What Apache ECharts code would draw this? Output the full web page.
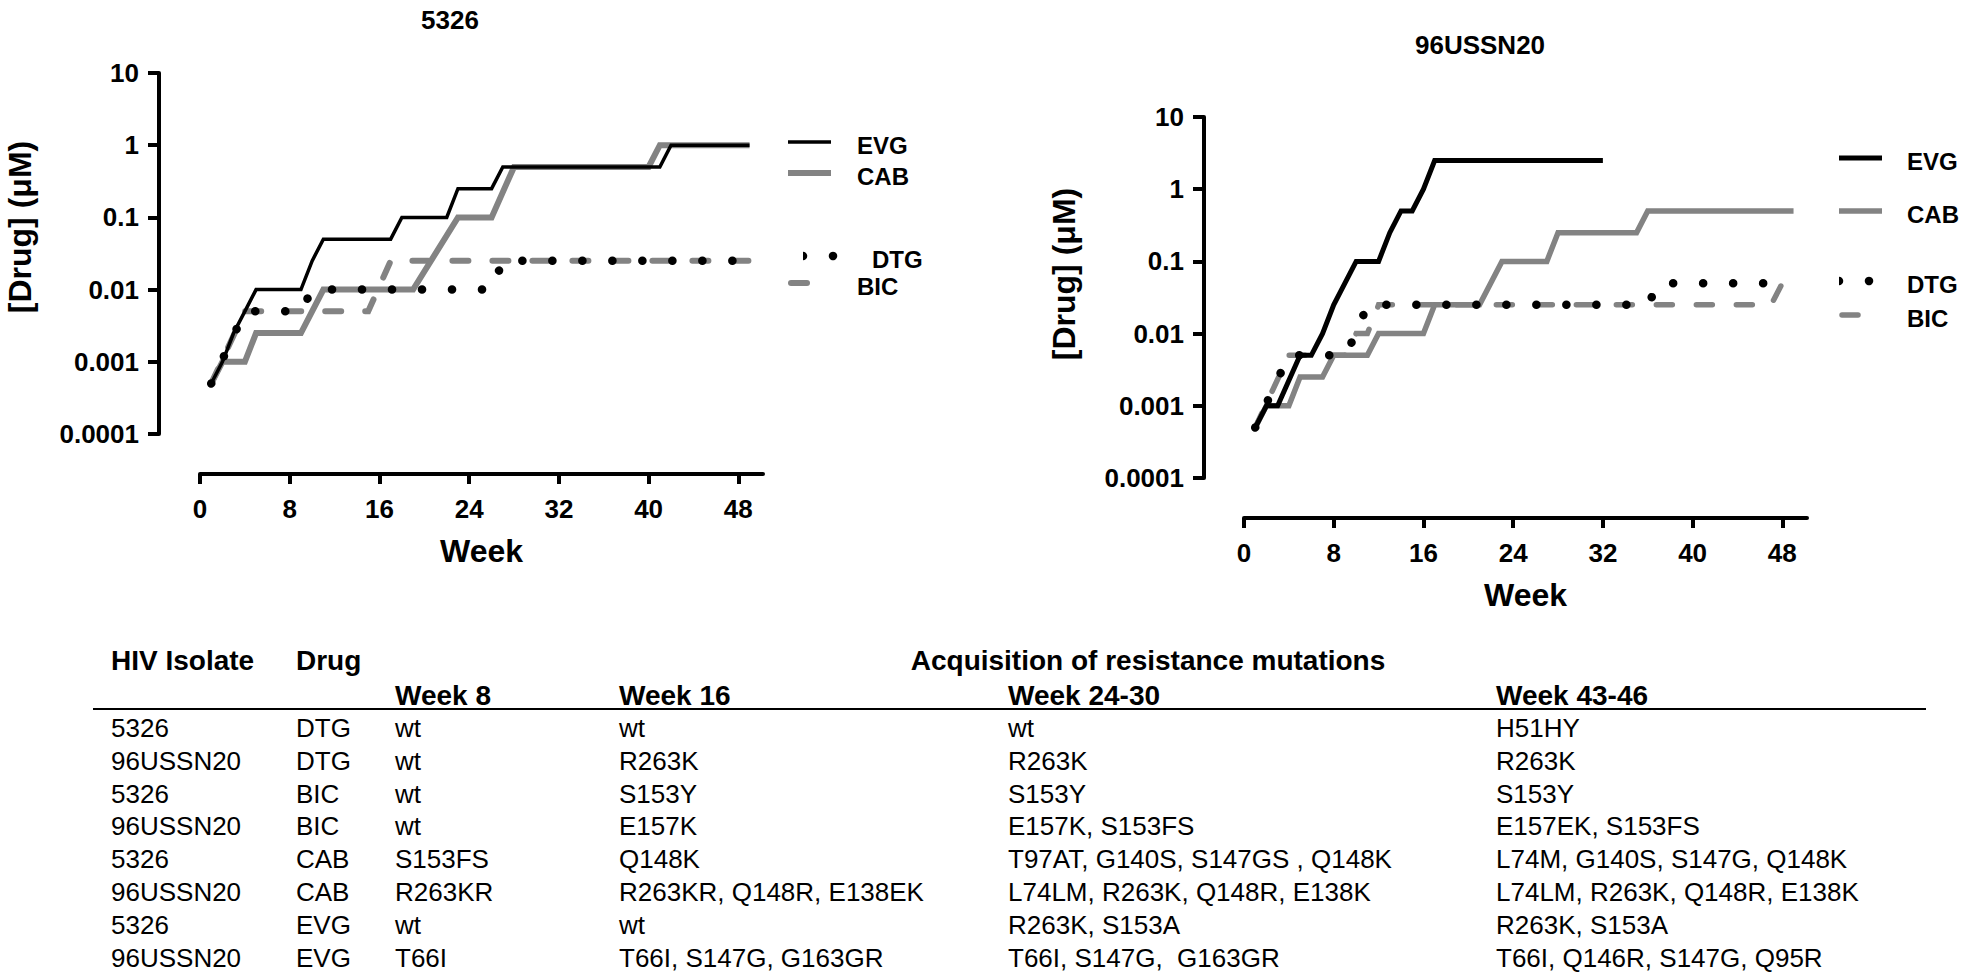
<!DOCTYPE html>
<html><head><meta charset="utf-8">
<script src="https://cdn.jsdelivr.net/npm/echarts@6/dist/echarts.min.js"></script>
<style>html,body{margin:0;padding:0;background:#fff;}#c{width:1961px;height:974px;}</style>
</head><body><div id="c"></div>
<script>
// ---------------- DATA ----------------
const panelTitles = ['5326', '96USSN20'];
const drugNames = ['EVG', 'CAB', 'DTG', 'BIC'];
const xTickValues = [0, 8, 16, 24, 32, 40, 48];
const yTickLabels = ['0.0001', '0.001', '0.01', '0.1', '1', '10'];
const xAxisTitle = 'Week';
const yAxisTitle = '[Drug] (\u03bcM)';

// isolate 5326
const evg5326Weeks  = [1, 2, 3, 4, 5, 9, 10, 11, 17, 18, 22, 23, 26, 27, 41, 42, 49];
const evg5326Values = [0.0005, 0.001, 0.0025, 0.005, 0.01, 0.01, 0.025, 0.05, 0.05, 0.1, 0.1, 0.25, 0.25, 0.5, 0.5, 1, 1];
const cab5326Weeks  = [1, 2, 4, 5, 9, 11, 19, 23, 26, 28, 40, 41, 49];
const cab5326Values = [0.0005, 0.001, 0.001, 0.0025, 0.0025, 0.01, 0.01, 0.1, 0.1, 0.5, 0.5, 1, 1];
const dtg5326Weeks  = [1, 4, 9, 10, 26, 27, 49];
const dtg5326Values = [0.0005, 0.005, 0.005, 0.01, 0.01, 0.025, 0.025];
const bic5326Weeks  = [1, 4, 15, 17, 49];
const bic5326Values = [0.0005, 0.005, 0.005, 0.025, 0.025];

// isolate 96USSN20
const evgUSWeeks  = [1, 2, 3, 5, 6, 7, 8, 9, 10, 12, 13, 14, 15, 16, 17, 32];
const evgUSValues = [0.0005, 0.001, 0.001, 0.005, 0.005, 0.01, 0.025, 0.05, 0.1, 0.1, 0.25, 0.5, 0.5, 1, 2.5, 2.5];
const cabUSWeeks  = [1, 2, 4, 5, 7, 8, 11, 12, 16, 17, 21, 23, 27, 28, 35, 36, 49];
const cabUSValues = [0.0005, 0.001, 0.001, 0.0025, 0.0025, 0.005, 0.005, 0.01, 0.01, 0.025, 0.025, 0.1, 0.1, 0.25, 0.25, 0.5, 0.5];
const dtgUSWeeks  = [1, 4, 9, 10, 11, 36, 37, 48];
const dtgUSValues = [0.0005, 0.005, 0.005, 0.01, 0.025, 0.025, 0.05, 0.05];
const bicUSWeeks  = [1, 4, 9, 10, 11, 12, 47, 48];
const bicUSValues = [0.0005, 0.005, 0.005, 0.01, 0.01, 0.025, 0.025, 0.05];

// table
const tableHeaderIsolate = 'HIV Isolate';
const tableHeaderDrug = 'Drug';
const tableHeaderGroup = 'Acquisition of resistance mutations';
const tableWeekHeaders = ['Week 8', 'Week 16', 'Week 24-30', 'Week 43-46'];
const tableIsolates = ['5326', '96USSN20', '5326', '96USSN20', '5326', '96USSN20', '5326', '96USSN20'];
const tableDrugs = ['DTG', 'DTG', 'BIC', 'BIC', 'CAB', 'CAB', 'EVG', 'EVG'];
const mutWeek8  = ['wt', 'wt', 'wt', 'wt', 'S153FS', 'R263KR', 'wt', 'T66I'];
const mutWeek16 = ['wt', 'R263K', 'S153Y', 'E157K', 'Q148K', 'R263KR, Q148R, E138EK', 'wt', 'T66I, S147G, G163GR'];
const mutWeek24 = ['wt', 'R263K', 'S153Y', 'E157K, S153FS', 'T97AT, G140S, S147GS , Q148K', 'L74LM, R263K, Q148R, E138K', 'R263K, S153A', 'T66I, S147G,  G163GR'];
const mutWeek43 = ['H51HY', 'R263K', 'S153Y', 'E157EK, S153FS', 'L74M, G140S, S147G, Q148K', 'L74LM, R263K, Q148R, E138K', 'R263K, S153A', 'T66I, Q146R, S147G, Q95R'];

// ---------------- LAYOUT / STYLE ----------------
const FONT = '"Liberation Sans", Arial, Helvetica, sans-serif';
const GRAY = '#838383';
const seriesData = [
  {EVG: [evg5326Weeks, evg5326Values], CAB: [cab5326Weeks, cab5326Values], DTG: [dtg5326Weeks, dtg5326Values], BIC: [bic5326Weeks, bic5326Values]},
  {EVG: [evgUSWeeks, evgUSValues], CAB: [cabUSWeeks, cabUSValues], DTG: [dtgUSWeeks, dtgUSValues], BIC: [bicUSWeeks, bicUSValues]}
];
const styles = [
  {EVG: {color: '#000', width: 3.5, type: 'solid'}, CAB: {color: GRAY, width: 6, type: 'solid'},
   DTG: {color: '#000', width: 8.5, type: [0.1, 29.9]}, BIC: {color: GRAY, width: 6, type: [16, 24]}},
  {EVG: {color: '#000', width: 5, type: 'solid'}, CAB: {color: GRAY, width: 5.5, type: 'solid'},
   DTG: {color: '#000', width: 8.5, type: [0.1, 29.9]}, BIC: {color: GRAY, width: 5.5, type: [16, 24]}}
];
const panels = [
  {left: 200, top: 73, yOff: 41, xOff: 40, lx: 788, ltx: 857, ly: [142, 173, 256, 283], dtgShift: 15,
   title: [450, 20], yName: [20, 227]},
  {left: 1244, top: 117, yOff: 40, xOff: 40, lx: 1839, ltx: 1907, ly: [158, 211, 281, 315], dtgShift: 0,
   title: [1480, 45], yName: [1064, 274]}
];
const GW = 563, GH = 361, XMAX = 50.2;

function zip(w, v) { return w.map((x, i) => [x, v[i]]); }

const grids = [], xAxes = [], yAxes = [], series = [], graphics = [];
panels.forEach((p, i) => {
  grids.push({left: p.left, top: p.top, width: GW, height: GH, containLabel: false});
  xAxes.push({
    type: 'value', gridIndex: i, min: 0, max: XMAX, interval: 8, offset: p.xOff,
    name: xAxisTitle, nameLocation: 'middle', nameGap: 61,
    nameTextStyle: {fontFamily: FONT, fontWeight: 'bold', fontSize: 32, color: '#000'},
    axisLine: {onZero: false, lineStyle: {color: '#000', width: 4}},
    axisTick: {length: 10, lineStyle: {color: '#000', width: 4}, customValues: xTickValues},
    axisLabel: {fontFamily: FONT, fontWeight: 'bold', fontSize: 26, color: '#000', margin: 22, customValues: xTickValues},
    splitLine: {show: false}
  });
  yAxes.push({
    type: 'log', logBase: 10, gridIndex: i, min: 0.0001, max: 10, offset: p.yOff,
    axisLine: {onZero: false, lineStyle: {color: '#000', width: 4}},
    axisTick: {length: 11, lineStyle: {color: '#000', width: 4}},
    axisLabel: {fontFamily: FONT, fontWeight: 'bold', fontSize: 26, color: '#000', margin: 20,
      formatter: v => yTickLabels[Math.round(Math.log10(v)) + 4]},
    splitLine: {show: false}, minorTick: {show: false}
  });
  ['CAB', 'BIC', 'EVG', 'DTG'].forEach(d => {
    const s = styles[i][d];
    series.push({
      name: d + ' ' + panelTitles[i], type: 'line', xAxisIndex: i, yAxisIndex: i,
      data: zip(seriesData[i][d][0], seriesData[i][d][1]),
      symbol: 'none', silent: true, animation: false,
      lineStyle: {color: s.color, width: s.width, type: s.type, cap: s.type === 'solid' ? 'butt' : 'round', join: 'miter'}
    });
  });
  graphics.push({type: 'text', x: p.title[0], y: p.title[1],
    style: {text: panelTitles[i], fontFamily: FONT, fontWeight: 'bold', fontSize: 26, fill: '#000', align: 'center', verticalAlign: 'middle'}});
  graphics.push({type: 'text', x: p.yName[0], y: p.yName[1], rotation: Math.PI / 2,
    style: {text: yAxisTitle, fontFamily: FONT, fontWeight: 'bold', fontSize: 32, fill: '#000', align: 'center', verticalAlign: 'middle'}});
  drugNames.forEach((d, k) => {
    const s = styles[i][d], y = p.ly[k];
    let tx = p.ltx;
    if (d === 'EVG' || d === 'CAB') {
      graphics.push({type: 'line', shape: {x1: p.lx, y1: y, x2: p.lx + 43, y2: y}, style: {stroke: s.color, lineWidth: s.width}});
    } else if (d === 'DTG') {
      const x0 = p.lx + p.dtgShift;
      graphics.push({type: 'sector', shape: {cx: x0, cy: y, r0: 0, r: s.width / 2, startAngle: -Math.PI / 2, endAngle: Math.PI / 2, clockwise: true}, style: {fill: s.color}});
      graphics.push({type: 'circle', shape: {cx: x0 + 30, cy: y, r: s.width / 2}, style: {fill: s.color}});
      tx = p.ltx + p.dtgShift;
    } else {
      graphics.push({type: 'line', shape: {x1: p.lx + 3, y1: y, x2: p.lx + 40.5, y2: y},
        style: {stroke: s.color, lineWidth: s.width, lineDash: [16, 21.5], lineCap: 'round'}});
    }
    graphics.push({type: 'text', x: tx, y: y + 3,
      style: {text: d, fontFamily: FONT, fontWeight: 'bold', fontSize: 24, fill: '#000', align: 'left', verticalAlign: 'middle'}});
  });
});

// ---------------- TABLE ----------------
const colX = [111, 296, 395, 619, 1008, 1496];
const headY1 = 660, headY2 = 695, ruleY = 709, rowY0 = 728, rowStep = 32.8;
function tText(t, x, y, bold, align) {
  graphics.push({type: 'text', x: x, y: y, style: {text: t, fontFamily: FONT, fontWeight: bold ? 'bold' : 'normal',
    fontSize: bold ? 28 : 26, fill: '#000', align: align || 'left', verticalAlign: 'middle'}});
}
tText(tableHeaderIsolate, colX[0], headY1, true);
tText(tableHeaderDrug, colX[1], headY1, true);
tText(tableHeaderGroup, 1148, headY1, true, 'center');
tableWeekHeaders.forEach((h, j) => tText(h, colX[2 + j], headY2, true));
graphics.push({type: 'line', shape: {x1: 93, y1: ruleY, x2: 1926, y2: ruleY}, style: {stroke: '#000', lineWidth: 2}});
const cols = [tableIsolates, tableDrugs, mutWeek8, mutWeek16, mutWeek24, mutWeek43];
tableIsolates.forEach((_, r) => {
  cols.forEach((c, j) => tText(c[r], colX[j], rowY0 + r * rowStep, false));
});

const chart = echarts.init(document.getElementById('c'), null, {renderer: 'svg'});
chart.setOption({
  animation: false, backgroundColor: '#fff',
  grid: grids, xAxis: xAxes, yAxis: yAxes, series: series, graphic: graphics
});
</script></body></html>
